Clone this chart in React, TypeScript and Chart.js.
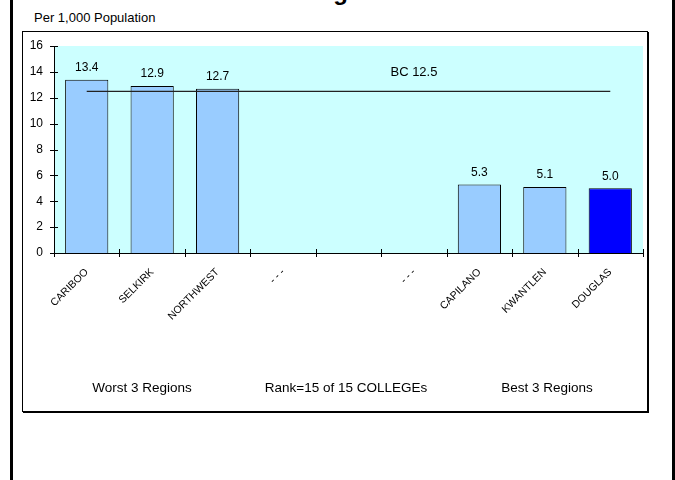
import React, { useEffect, useRef } from "react";
import { Chart, registerables } from "chart.js";

Chart.register(...registerables);

const categories = ["CARIBOO", "SELKIRK", "NORTHWEST", "- - -", "", "- - -", "CAPILANO", "KWANTLEN", "DOUGLAS"];
const rates: (number | null)[] = [13.4, 12.9, 12.7, null, null, null, 5.3, 5.1, 5.0];
const bcValues = [12.5, 12.5, 12.5, 12.5, 12.5, 12.5, 12.5, 12.5, 12.5];
const bcLabel = "BC 12.5";
const bcLabelIndex = 5;
const barColors = ["#99CCFF", "#99CCFF", "#99CCFF", "#99CCFF", "#99CCFF", "#99CCFF", "#99CCFF", "#99CCFF", "#0000FF"];
const yMin = 0;
const yMax = 16;
const yStep = 2;
const groupLabels = ["Worst 3 Regions", "Rank=15 of 15 COLLEGEs", "Best 3 Regions"];
const titleText = "Drug Offences";
const unitText = "Per 1,000 Population";

const FONT = "Arial, 'Liberation Sans', sans-serif";

const decorPlugin = {
  id: "decor",
  beforeDraw(chart: any) {
    const { ctx, chartArea } = chart;
    ctx.save();
    ctx.fillStyle = "#CCFFFF";
    ctx.fillRect(chartArea.left, chartArea.top, chartArea.right - chartArea.left, chartArea.bottom - chartArea.top);
    ctx.restore();
  },
  afterDraw(chart: any) {
    const { ctx, chartArea, scales } = chart;
    const x = scales.x;
    const y = scales.y;
    ctx.save();
    ctx.strokeStyle = "#000";
    ctx.lineWidth = 1;
    for (let v = yMin; v <= yMax; v += yStep) {
      const py = Math.round(y.getPixelForValue(v)) + 0.5;
      ctx.beginPath();
      ctx.moveTo(chartArea.left - 4, py);
      ctx.lineTo(chartArea.left + 4, py);
      ctx.stroke();
    }
    const n = categories.length;
    for (let i = 0; i <= n; i++) {
      const px = Math.round(x.getPixelForValue(i - 0.5)) + 0.5;
      const by = Math.round(chartArea.bottom);
      ctx.beginPath();
      ctx.moveTo(px, by - 4);
      ctx.lineTo(px, by + 4);
      ctx.stroke();
    }
    ctx.fillStyle = "#000";
    ctx.font = `12px ${FONT}`;
    ctx.textAlign = "center";
    ctx.textBaseline = "middle";
    const barMeta = chart.getDatasetMeta(1);
    barMeta.data.forEach((el: any, i: number) => {
      const v = rates[i];
      if (v == null) return;
      ctx.fillText(v.toFixed(1), el.x, el.y - 12);
    });
    const lineMeta = chart.getDatasetMeta(0);
    const pt = lineMeta.data[bcLabelIndex];
    ctx.font = `13px ${FONT}`;
    if (pt) ctx.fillText(bcLabel, pt.x, pt.y - 19);
    ctx.restore();
  },
};

export default function App() {
  const ref = useRef<HTMLCanvasElement>(null);

  useEffect(() => {
    if (!ref.current) return;
    const chart = new Chart(ref.current, {
      type: "bar",
      data: {
        labels: categories,
        datasets: [
          {
            type: "line",
            label: "BC",
            data: bcValues,
            borderColor: "#222222",
            borderWidth: 1.3,
            pointRadius: 0,
            fill: false,
            order: 0,
          } as any,
          {
            type: "bar",
            label: "Rate",
            data: rates,
            backgroundColor: barColors,
            borderColor: "#000000",
            borderWidth: 1,
            barPercentage: 0.66,
            categoryPercentage: 1,
            order: 1,
          } as any,
        ],
      },
      options: {
        responsive: false,
        animation: false,
        events: [],
        layout: { padding: { left: 0, right: 5, top: 15, bottom: 0 } },
        plugins: { legend: { display: false }, tooltip: { enabled: false }, title: { display: false } },
        scales: {
          x: {
            offset: true,
            grid: { display: false, offset: true },
            border: { display: true, color: "#000", width: 1 },
            ticks: {
              autoSkip: false,
              minRotation: 45,
              maxRotation: 45,
              padding: 5,
              color: "#000",
              font: { family: FONT, size: 10.5 },
            },
            afterFit: (s: any) => {
              s.height = 159;
            },
          },
          y: {
            min: yMin,
            max: yMax,
            grid: { display: false },
            border: { display: true, color: "#000", width: 1 },
            ticks: {
              stepSize: yStep,
              padding: 3,
              color: "#000",
              font: { family: FONT, size: 12 },
            },
            afterFit: (s: any) => {
              s.width = 32;
            },
          },
        },
      },
      plugins: [decorPlugin],
    });
    return () => chart.destroy();
  }, []);

  const textStyle: React.CSSProperties = {
    position: "absolute",
    fontFamily: FONT,
    fontSize: 13,
    color: "#000",
    whiteSpace: "nowrap",
    lineHeight: "14px",
  };

  return (
    <div style={{ position: "absolute", left: 0, top: 0, width: 675, height: 480, overflow: "hidden", background: "#fff" }}>
      <div style={{ position: "absolute", left: 10, top: 0, width: 3, height: 480, background: "#000" }} />
      <div style={{ position: "absolute", left: 672, top: 0, width: 3, height: 480, background: "#000" }} />
      <div
        style={{
          position: "absolute",
          left: 292,
          top: -20,
          fontFamily: FONT,
          fontWeight: "bold",
          fontSize: 24,
          lineHeight: "24px",
          whiteSpace: "nowrap",
        }}
      >
        {titleText}
      </div>
      <div style={{ ...textStyle, left: 34, top: 11 }}>{unitText}</div>
      <div
        style={{
          position: "absolute",
          left: 22,
          top: 31,
          width: 626,
          height: 381,
          border: "1px solid #000",
          boxSizing: "border-box",
          boxShadow: "1px 1px 0 #000",
        }}
      />
      <canvas ref={ref} width={626} height={381} style={{ position: "absolute", left: 22, top: 31, width: 626, height: 381 }} />
      <div style={{ ...textStyle, fontSize: 13.5, left: 142, top: 381, transform: "translateX(-50%)" }}>{groupLabels[0]}</div>
      <div style={{ ...textStyle, fontSize: 13.5, left: 346, top: 381, transform: "translateX(-50%)" }}>{groupLabels[1]}</div>
      <div style={{ ...textStyle, fontSize: 13.5, left: 547, top: 381, transform: "translateX(-50%)" }}>{groupLabels[2]}</div>
    </div>
  );
}
